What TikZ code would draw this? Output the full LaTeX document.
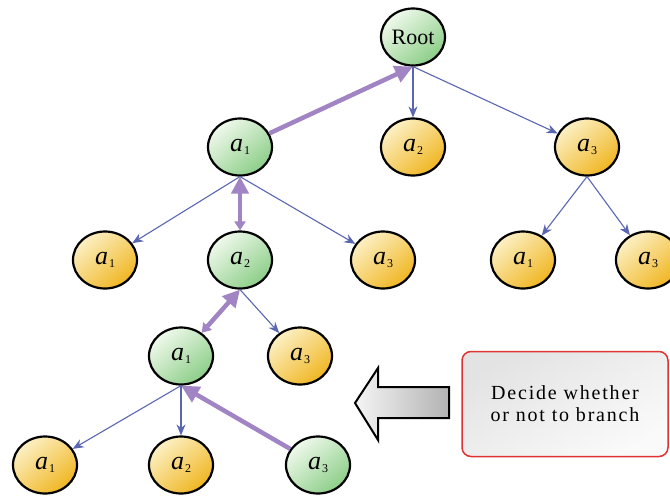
\documentclass[tikz,border=0pt]{standalone}
\usepackage{fontspec}
\setmainfont{Liberation Serif}
\newfontfamily\notefont[LetterSpace=9]{Liberation Serif}
\usetikzlibrary{arrows.meta,shapes.geometric,positioning}

\definecolor{edgeblue}{HTML}{5A66B0}
\definecolor{pathviolet}{HTML}{A084C4}
\definecolor{leaflight}{HTML}{FCF0C4}
\definecolor{leafdark}{HTML}{F0B622}
\definecolor{picklight}{HTML}{F0F9EC}
\definecolor{pickdark}{HTML}{8CCE88}
\definecolor{noteborder}{HTML}{E03434}

% label a_i of a node
\newcommand{\alab}[1]{\textit{a}\kern1pt\raisebox{-3pt}{\fontsize{12}{12}\selectfont #1}}

\begin{document}
\begin{tikzpicture}[
    x=1pt, y=-1pt,
    state/.style={ellipse, draw, line width=2.2pt, minimum width=64pt, minimum height=57pt,
        inner sep=0pt, font=\fontsize{26}{28}\selectfont},
    leaf/.style={state, top color=leaflight, bottom color=leafdark, shading angle=40},
    pick/.style={state, top color=picklight, bottom color=pickdark, shading angle=40},
    arrow/.style={-{Stealth[length=11pt,width=9pt]}, draw=edgeblue, line width=1.1pt},
    path/.style={draw=pathviolet, line width=4.5pt, line cap=butt},
    bighead/.tip={Triangle[length=17pt,width=17pt]},
    smallhead/.tip={Triangle[length=9pt,width=11pt]},
    note/.style={rectangle, rounded corners=9pt, draw=noteborder, line width=1.5pt,
        minimum width=206pt, minimum height=105pt, align=center,
        top color=gray!22, bottom color=gray!4, shading angle=30,
        font=\notefont\fontsize{20}{22}\selectfont},
    bigarrow/.style={draw, line width=2pt, line join=miter, left color=gray!8, right color=gray!60}
]
\useasboundingbox (0,0) rectangle (670,496);

% Root and first level
\node[pick] (root) at (413,37) {\fontsize{22}{24}\selectfont Root};
\node[pick] (A1) at (240,147) {\alab{1}};
\node[leaf] (A2) at (413,147) {\alab{2}};
\node[leaf] (A3) at (587,147) {\alab{3}};

% Second level
\node[leaf] (B1) at (105,260) {\alab{1}};
\node[pick] (B2) at (240,260) {\alab{2}};
\node[leaf] (B3) at (383,260) {\alab{3}};
\node[leaf] (C1) at (523,260) {\alab{1}};
\node[leaf] (C3) at (648,260) {\alab{3}};

% Third level
\node[pick] (D1) at (181,356) {\alab{1}};
\node[leaf] (D3) at (300,356) {\alab{3}};

% Fourth level
\node[leaf] (E1) at (45,465) {\alab{1}};
\node[leaf] (E2) at (181,465) {\alab{2}};
\node[pick] (E3) at (318,465) {\alab{3}};

% Branches of the tree
\draw[arrow] (root.south) -- (A2);
\draw[arrow] (root.south) -- (A3);
\draw[arrow] (A1.south) -- (B1);
\draw[arrow] (A1.south) -- (B3);
\draw[arrow] (A3.south) -- (C1);
\draw[arrow] (A3.south) -- (C3);
\draw[arrow] (B2.south) -- (D3);
\draw[arrow] (D1.south) -- (E1);
\draw[arrow] (D1.south) -- (E2);

% Chosen path back to the root
\draw[path, -{Triangle[length=18pt,width=17pt]}] (A1) -- (root.south);
\draw[path, bighead-smallhead] (A1.south) -- (B2.north);
\draw[path, bighead-smallhead] (B2.south) -- (D1);
\draw[path, -{Triangle[length=18pt,width=17pt]}] (E3) -- (D1.south);

% Hint on the right
\node[note] (hint) at (565,404) {Decide whether\\or not to branch};
\draw[bigarrow] (355,403) -- (378,368) -- (378,387) -- (449,387)
    -- (449,418) -- (378,418) -- (378,440) -- cycle;

\end{tikzpicture}
\end{document}
